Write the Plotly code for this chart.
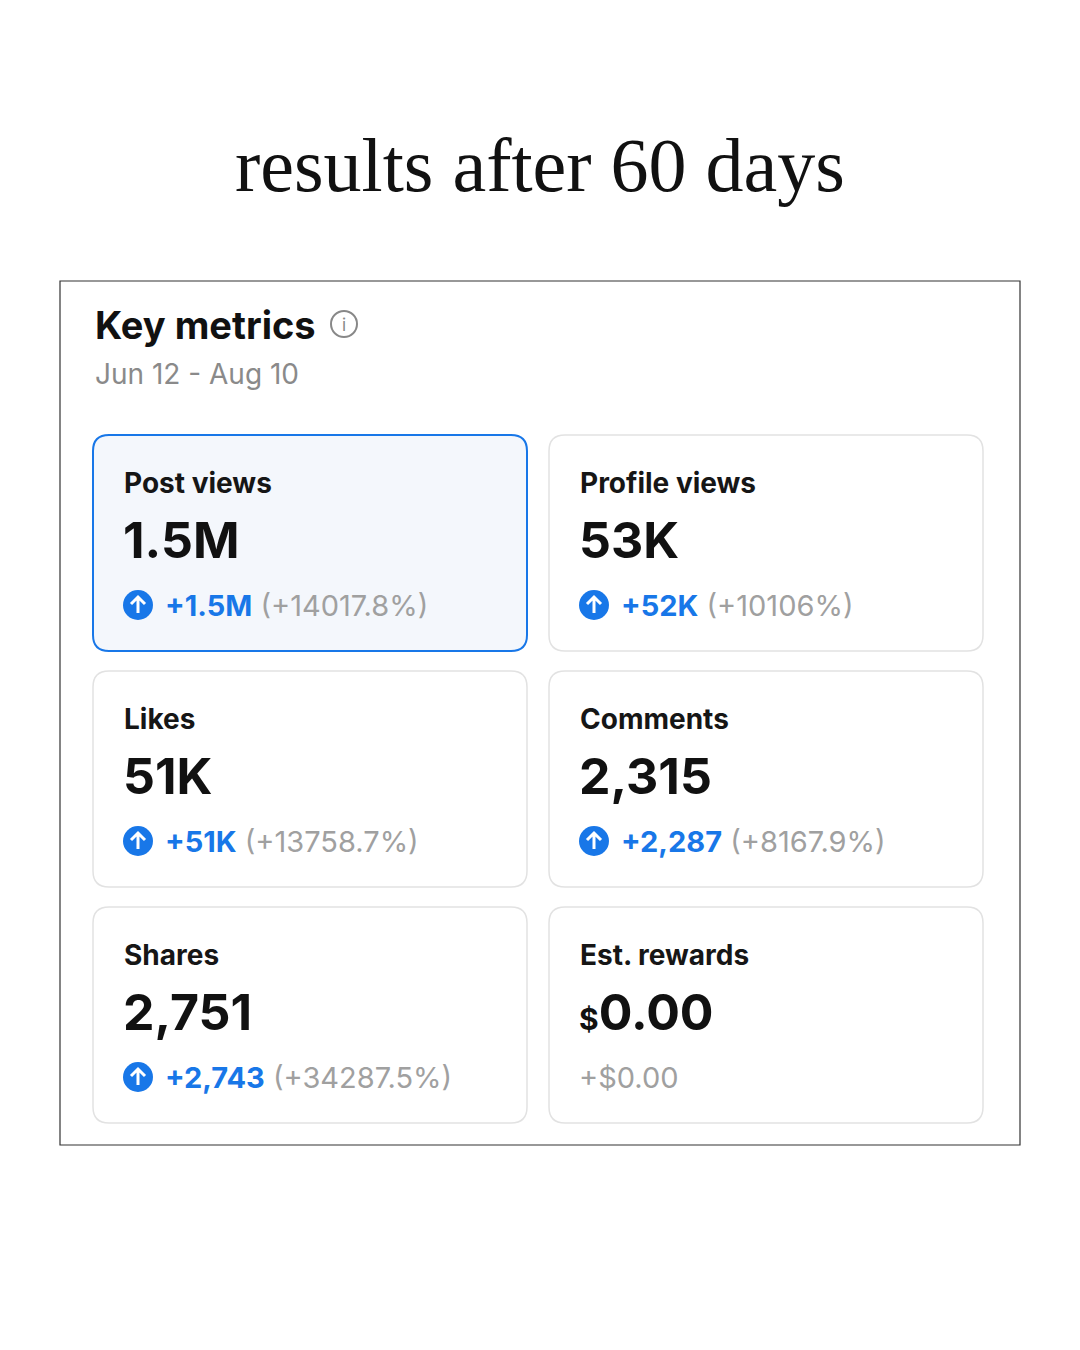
import plotly.graph_objects as go

labels = ["Post views", "Profile views", "Likes", "Comments", "Shares", "Est. rewards"]
values = ["1.5M", "53K", "51K", "2,315", "2,751", "0.00"]
changes = ["+1.5M", "+52K", "+51K", "+2,287", "+2,743", "+$0.00"]
pcts = ["(+14017.8%)", "(+10106%)", "(+13758.7%)", "(+8167.9%)", "(+34287.5%)", ""]
rising = [True, True, True, True, True, False]

BLUE = "#1877e8"
GRAY = "#a0a0a0"
FONT = "Inter"


def rrect(x0, y0, x1, y1, r):
    return (f"M{x0+r},{y0} L{x1-r},{y0} Q{x1},{y0} {x1},{y0+r} L{x1},{y1-r} "
            f"Q{x1},{y1} {x1-r},{y1} L{x0+r},{y1} Q{x0},{y1} {x0},{y1-r} "
            f"L{x0},{y0+r} Q{x0},{y0} {x0+r},{y0} Z")


fig = go.Figure()
shapes = []
ann = []

# outer frame
shapes.append(dict(type="rect", x0=60, y0=281, x1=1020, y1=1145,
                   line=dict(color="#333", width=1.2), fillcolor="white"))

ann.append(dict(x=540, y=165, text="results after 60 days", showarrow=False,
                font=dict(family="Liberation Serif", size=76, color="#111")))
ann.append(dict(x=93, y=325, text="<b>Key metrics</b>", showarrow=False, xanchor="left",
                font=dict(family=FONT, size=38, color="#111")))
shapes.append(dict(type="circle", x0=331, y0=311, x1=357, y1=337,
                   line=dict(color="#888", width=2)))
ann.append(dict(x=344, y=325, text="i", showarrow=False,
                font=dict(family=FONT, size=17, color="#888")))
ann.append(dict(x=93, y=374, text="Jun 12 - Aug 10", showarrow=False, xanchor="left",
                font=dict(family=FONT, size=28, color="#8a8a8a")))

cols = [93, 549]
rows = [435, 671, 907]
for i, lab in enumerate(labels):
    x0 = cols[i % 2]
    y0 = rows[i // 2]
    x1, y1 = x0 + 434, y0 + 216
    active = i == 0
    shapes.append(dict(type="path", path=rrect(x0, y0, x1, y1, 16),
                       fillcolor="#f4f7fc" if active else "white",
                       line=dict(color=BLUE if active else "#e2e2e2", width=2 if active else 1.5)))
    ann.append(dict(x=x0 + 29, y=y0 + 48, text=f"<b>{lab}</b>", showarrow=False, xanchor="left",
                    font=dict(family=FONT, size=28, color="#161616")))
    val = values[i]
    if lab == "Est. rewards":
        val = "<span style='font-size:30px'>$</span>" + val
    ann.append(dict(x=x0 + 28, y=y0 + 105, text=f"<b>{val}</b>", showarrow=False, xanchor="left",
                    font=dict(family=FONT, size=50, color="#111")))
    cy = y0 + 170
    if rising[i]:
        cx = x0 + 45
        shapes.append(dict(type="circle", x0=cx - 15, y0=cy - 15, x1=cx + 15, y1=cy + 15,
                           fillcolor=BLUE, line=dict(width=0)))
        shapes.append(dict(type="path", path=f"M{cx},{cy+8} L{cx},{cy-8} M{cx-7},{cy-1} L{cx},{cy-8} L{cx+7},{cy-1}",
                           line=dict(color="white", width=3)))
        txt = f"<b><span style='color:{BLUE}'>{changes[i]}</span></b> <span style='color:{GRAY}'>{pcts[i]}</span>"
        ann.append(dict(x=x0 + 70, y=cy, text=txt, showarrow=False, xanchor="left",
                        font=dict(family=FONT, size=29)))
    else:
        ann.append(dict(x=x0 + 28, y=cy, text=changes[i], showarrow=False, xanchor="left",
                        font=dict(family=FONT, size=29, color=GRAY)))

# page body has an 8px offset; shift the ranges to compensate
fig.update_layout(
    width=1080, height=1350, margin=dict(l=0, r=0, t=0, b=0),
    paper_bgcolor="white", plot_bgcolor="white",
    xaxis=dict(range=[8, 1088], visible=False, fixedrange=True),
    yaxis=dict(range=[1358, 8], visible=False, fixedrange=True),
    shapes=shapes, annotations=ann, showlegend=False,
)
fig.write_html("out.html")
